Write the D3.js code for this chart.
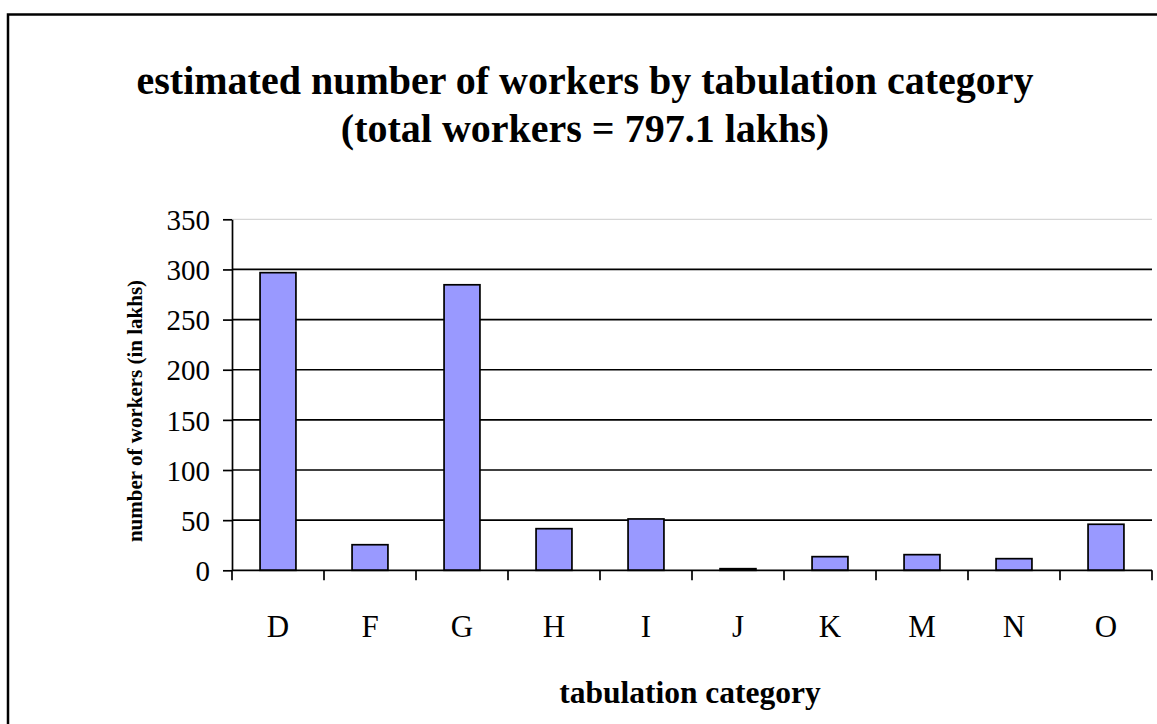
<!DOCTYPE html>
<html lang="en">
<head>
<meta charset="utf-8">
<title>Workers by tabulation category</title>
<style>
  body { margin: 0; background: #fff; }
  svg { display: block; }
  svg text { font-family: "Liberation Serif", "Times New Roman", serif; fill: #000; }
</style>
</head>
<body>
<div id="chart"></div>
<script src="https://d3js.org/d3.v7.min.js"></script>
<script>
  // data (lakhs)
  const categories = ["D", "F", "G", "H", "I", "J", "K", "M", "N", "O"];
  const workers = [296.8, 25.5, 284.7, 41.5, 51.2, 1.6, 13.6, 15.6, 11.6, 45.9];
  const yTicks = [0, 50, 100, 150, 200, 250, 300, 350];

  const titleLines = ["estimated number of workers by tabulation category", "(total workers = 797.1 lakhs)"];
  const yTitle = "number of workers (in lakhs)";
  const xTitle = "tabulation category";

  const width = 1157, height = 724;
  const plot = {left: 232, right: 1152, top: 219.3, bottom: 570.3};

  const svg = d3.select("#chart").append("svg")
      .attr("width", width)
      .attr("height", height);

  // outer chart border
  svg.append("rect")
      .attr("x", 8).attr("y", 14.5)
      .attr("width", width + 10).attr("height", height)
      .attr("fill", "none")
      .attr("stroke", "#000")
      .attr("stroke-width", 2.5);

  const x = d3.scaleBand()
      .domain(categories)
      .range([plot.left, plot.right])
      .paddingInner(0.61)
      .paddingOuter(0.305);
  const xTickScale = d3.scaleBand()
      .domain(categories)
      .range([plot.left, plot.right]);

  const y = d3.scaleLinear()
      .domain([0, 350])
      .range([plot.bottom, plot.top]);

  // gridlines
  svg.append("g")
      .selectAll("line")
      .data(yTicks.filter(d => d > 0))
      .join("line")
      .attr("x1", plot.left).attr("x2", plot.right)
      .attr("y1", d => y(d)).attr("y2", d => y(d))
      .attr("stroke", d => d === 350 ? "#ccc" : "#000")
      .attr("stroke-width", d => d === 350 ? 1 : 1.7);

  // bars
  svg.append("g")
      .selectAll("rect")
      .data(workers)
      .join("rect")
      .attr("x", (d, i) => x(categories[i]))
      .attr("y", d => y(d))
      .attr("width", x.bandwidth())
      .attr("height", d => y(0) - y(d))
      .attr("fill", "#9999ff")
      .attr("stroke", "#000")
      .attr("stroke-width", 1.7);

  // y axis
  const yAxis = svg.append("g")
      .attr("transform", `translate(${plot.left},0)`)
      .call(d3.axisLeft(y).tickValues(yTicks).tickSize(9).tickPadding(13).tickSizeOuter(0));
  yAxis.select(".domain").attr("stroke-width", 1.7);
  yAxis.selectAll(".tick line").attr("stroke-width", 1.7);
  yAxis.selectAll("text")
      .attr("font-family", null)
      .attr("font-size", 29)
      .attr("dy", "0.35em");

  // x axis: ticks on band boundaries
  const xAxis = svg.append("g")
      .attr("transform", `translate(0,${plot.bottom})`);
  xAxis.append("line")
      .attr("x1", plot.left).attr("x2", plot.right)
      .attr("stroke", "#000").attr("stroke-width", 1.7);
  xAxis.selectAll(".xtick")
      .data(categories.concat([null]))
      .join("line")
      .attr("class", "xtick")
      .attr("x1", d => d === null ? plot.right : xTickScale(d))
      .attr("x2", d => d === null ? plot.right : xTickScale(d))
      .attr("y1", 0).attr("y2", 10)
      .attr("stroke", "#000").attr("stroke-width", 1.7);
  xAxis.selectAll("text")
      .data(categories)
      .join("text")
      .attr("x", d => xTickScale(d) + xTickScale.bandwidth() / 2)
      .attr("y", 66.7)
      .attr("text-anchor", "middle")
      .attr("font-size", 31)
      .text(d => d);

  // titles
  svg.append("g")
      .selectAll("text")
      .data(titleLines)
      .join("text")
      .attr("x", 585)
      .attr("y", (d, i) => 94 + i * 48)
      .attr("text-anchor", "middle")
      .attr("font-weight", "bold")
      .attr("font-size", 40)
      .text(d => d);

  svg.append("text")
      .attr("transform", `translate(142,411) rotate(-90)`)
      .attr("text-anchor", "middle")
      .attr("font-weight", "bold")
      .attr("font-size", 21)
      .text(yTitle);

  svg.append("text")
      .attr("x", 690)
      .attr("y", 703)
      .attr("text-anchor", "middle")
      .attr("font-weight", "bold")
      .attr("font-size", 31.5)
      .text(xTitle);
</script>
</body>
</html>
